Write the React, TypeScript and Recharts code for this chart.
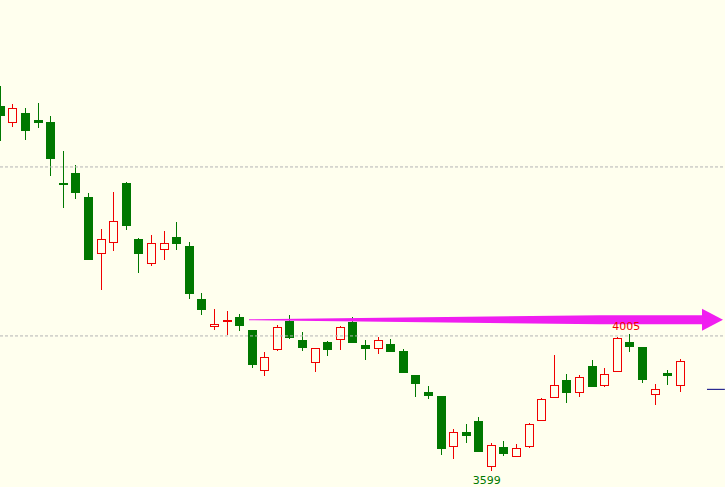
import { ComposedChart, Bar, XAxis, YAxis, ReferenceLine, ReferenceDot } from "recharts";

// candle values, oldest first
const opens = [4680, 4631, 4660, 4639, 4633, 4453, 4482, 4411, 4243, 4276, 4453, 4287, 4214, 4255, 4293, 4266, 4109, 4026, 4042, 4056, 4018, 3896, 3958, 4044, 3988, 3919, 3982, 3987, 4041, 3973, 3961, 3976, 3956, 3885, 3834, 3822, 3672, 3716, 3749, 3612, 3672, 3641, 3671, 3748, 3817, 3870, 3830, 3911, 3853, 3893, 3982, 3967, 3825, 3891, 3853];
const closes = [4652, 4674, 4607, 4631, 4524, 4448, 4423, 4225, 4286, 4339, 4325, 4243, 4275, 4275, 4273, 4125, 4078, 4036, 4047, 4028, 3915, 3937, 4026, 3995, 3965, 3964, 3959, 4026, 3980, 3962, 3987, 3951, 3891, 3859, 3823, 3664, 3715, 3705, 3658, 3677, 3652, 3668, 3739, 3813, 3854, 3832, 3878, 3850, 3887, 3993, 3968, 3871, 3842, 3880, 3925];
const highs = [4740, 4686, 4675, 4689, 4651, 4547, 4506, 4423, 4317, 4426, 4456, 4289, 4299, 4311, 4337, 4278, 4127, 4080, 4074, 4065, 4018, 3953, 4033, 4062, 4012, 3964, 3985, 4030, 4056, 3988, 3996, 3991, 3962, 3885, 3852, 3822, 3725, 3740, 3760, 3683, 3689, 3680, 3743, 3816, 3944, 3888, 3885, 3929, 3905, 3996, 4005, 3967, 3858, 3899, 3932];
const lows = [4578, 4619, 4580, 4616, 4473, 4380, 4405, 4224, 4136, 4251, 4312, 4187, 4207, 4226, 4254, 4110, 4063, 4019, 4004, 4016, 3906, 3880, 3954, 3992, 3954, 3894, 3942, 3959, 3980, 3930, 3948, 3951, 3891, 3820, 3814, 3649, 3637, 3684, 3658, 3599, 3646, 3641, 3667, 3748, 3816, 3803, 3820, 3850, 3850, 3893, 3951, 3862, 3797, 3856, 3835];

const gridLevels = [4000, 4500];
const maxLabel = { index: 50, value: 4005 };
const minLabel = { index: 39, value: 3599 };
const lastPrice = 3842;

const UP = "#f00000";
const DOWN = "#007800";
const BG = "#ffffee";

const data = opens.map((o, i) => ({
  i,
  open: o,
  close: closes[i],
  high: highs[i],
  low: lows[i],
}));

const Candle = (props: any) => {
  const { x, y, width, height, payload } = props;
  const { open, close, high, low } = payload;
  const top = Math.min(y, y + height);
  const bot = Math.max(y, y + height);
  const yOf = (v: number) => top + ((high - v) / (high - low || 1)) * (bot - top);
  const cx = Math.round(x + width / 2);
  const up = close > open;
  const color = up ? UP : DOWN;
  const bTop = Math.round(yOf(Math.max(open, close)));
  const bBot = Math.round(yOf(Math.min(open, close)));
  const hi = Math.round(top);
  const lo = Math.round(bot);

  if (up && bBot - bTop >= 3) {
    return (
      <g>
        <line x1={cx + 0.5} x2={cx + 0.5} y1={hi} y2={bTop} stroke={color} />
        <line x1={cx + 0.5} x2={cx + 0.5} y1={bBot} y2={lo} stroke={color} />
        <rect x={cx - 3.5} y={bTop + 0.5} width={8} height={bBot - bTop - 1} fill="none" stroke={color} />
      </g>
    );
  }
  return (
    <g>
      <line x1={cx + 0.5} x2={cx + 0.5} y1={hi} y2={lo} stroke={color} />
      <rect x={cx - 4} y={bTop} width={9} height={Math.max(2, bBot - bTop)} fill={color} />
    </g>
  );
};

const Arrow = (props: any) => {
  const { x1, y1, x2 } = props;
  const len = x2 - x1;
  const xm = x1 + len * 0.74;
  const xh = x2 - 21;
  const shaft = `${x1},${y1 - 0.5} ${xm},${y1 - 4.5} ${xh},${y1 - 4.5} ${xh},${y1 + 4.5} ${xm},${y1 + 4.5} ${x1},${y1 + 0.5}`;
  const head = `${xh},${y1 - 11} ${x2},${y1} ${xh},${y1 + 11}`;
  return (
    <g>
      <polygon points={shaft} fill="#f01ef0" />
      <polygon points={head} fill="#f01ef0" />
    </g>
  );
};

export default function App() {
  return (
    <div style={{ width: 725, height: 487, background: BG }}>
      <style>{"body{margin:0;background:" + BG + "}"}</style>
      <ComposedChart width={725} height={487} data={data} margin={{ top: 0, right: 0, bottom: 0, left: 0 }}>
        <XAxis dataKey="i" type="number" domain={[0.024, 57.61]} allowDataOverflow hide />
        <YAxis type="number" domain={[3553, 4994]} allowDataOverflow hide />
        {gridLevels.map((v) => (
          <ReferenceLine key={v} y={v} stroke="#b4b4b4" strokeDasharray="3 2" />
        ))}
        <Bar dataKey={(d: any) => [d.low, d.high]} barSize={9} shape={Candle} isAnimationActive={false} />
        <ReferenceLine
          segment={[{ x: 19.8, y: 4048 }, { x: 57.45, y: 4048 }]}
          shape={Arrow}
        />
        <ReferenceLine
          segment={[{ x: 56.18, y: lastPrice }, { x: 57.6, y: lastPrice }]}
          stroke="#000080"
        />
        <ReferenceDot
          x={maxLabel.index}
          y={maxLabel.value}
          r={0}
          shape={(p: any) => (
            <text x={p.cx - 3} y={p.cy - 4} textAnchor="middle" fill={UP} fontSize={11} fontFamily="DejaVu Sans">
              {maxLabel.value}
            </text>
          )}
        />
        <ReferenceDot
          x={minLabel.index}
          y={minLabel.value}
          r={0}
          shape={(p: any) => (
            <text x={p.cx - 4} y={p.cy + 13} textAnchor="middle" fill={DOWN} fontSize={11} fontFamily="DejaVu Sans">
              {minLabel.value}
            </text>
          )}
        />
      </ComposedChart>
    </div>
  );
}
